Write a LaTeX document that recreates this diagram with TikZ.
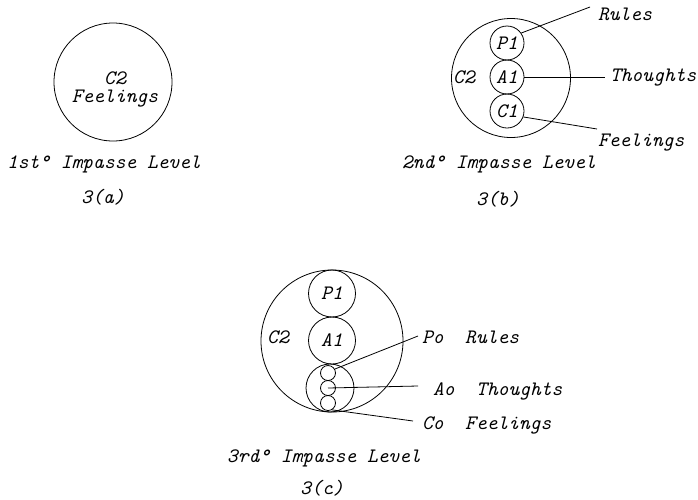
\documentclass[tikz,border=0pt]{standalone}
\usepackage{fontspec}

\begin{document}
\begin{tikzpicture}[x=1pt,y=-1pt,
  ring/.style={draw,circle,inner sep=0pt,line width=0.8pt,
    font=\fontsize{20.5}{22}\ttfamily\itshape},
  lbl/.style={font=\fontsize{20.5}{22}\ttfamily\itshape,inner sep=0pt},
  lead/.style={line width=0.8pt}]
  \useasboundingbox (0,0) rectangle (698,499);

  % level 1
  \node[ring,minimum size=118pt] (a) at (113,82) {};
  \node[lbl] (ac2) at (115,78) {C2};
  \node[lbl] (afeel) at (115,99) {Feelings};
  \node[lbl] (atitle) at (104,164) {1st° Impasse Level};
  \node[lbl] (acap) at (103,197) {3(a)};

  % level 2
  \node[ring,minimum size=119pt] (b) at (511,78) {};
  \node[ring,minimum size=34pt] (bp1) at (507,43) {P1};
  \node[ring,minimum size=34pt] (ba1) at (507,77) {A1};
  \node[ring,minimum size=34pt] (bc1) at (507,111) {C1};
  \node[lbl] (bc2) at (464,77) {C2};
  \node[lbl,anchor=west] (brules) at (598,14) {Rules};
  \node[lbl,anchor=west] (bthoughts) at (610,78) {Thoughts};
  \node[lbl,anchor=west] (bfeel) at (598,143) {Feelings};
  \coordinate (br) at (590,7);
  \coordinate (bt) at (605,77);
  \coordinate (bf) at (597,129);
  \draw[lead] (bp1.35) -- (br);
  \draw[lead] (ba1.east) -- (bt);
  \draw[lead] (bc1.-20) -- (bf);
  \node[lbl] (btitle) at (499,164) {2nd° Impasse Level};
  \node[lbl] (bcap) at (498,199) {3(b)};

  % level 3
  \node[ring,minimum size=142pt] (c) at (332,341) {};
  \node[ring,minimum size=47pt] (cp1) at (332,293.5) {P1};
  \node[ring,minimum size=47pt] (ca1) at (332,340.5) {A1};
  \node[ring,minimum size=48pt] (cc1) at (330,388) {};
  \node[ring,minimum size=15pt] (cpo) at (328,373) {};
  \node[ring,minimum size=15pt] (cao) at (328,388) {};
  \node[ring,minimum size=15pt] (cco) at (328,403) {};
  \node[lbl] (cc2) at (278,337) {C2};
  \node[lbl,anchor=west] (cpol) at (422,337) {Po\ \ Rules};
  \node[lbl,anchor=west] (caol) at (433,391) {Ao\ \ Thoughts};
  \node[lbl,anchor=west] (ccol) at (422,425) {Co\ \ Feelings};
  \coordinate (cr) at (418,336);
  \coordinate (ct) at (418,386);
  \coordinate (cf) at (413,421);
  \draw[lead] (cpo.30) -- (cr);
  \draw[lead] (cao.center) -- (ct);
  \draw[lead] (cco.-60) -- (cf);
  \node[lbl] (ctitle) at (324,458) {3rd° Impasse Level};
  \node[lbl] (ccap) at (322,488) {3(c)};
\end{tikzpicture}
\end{document}
